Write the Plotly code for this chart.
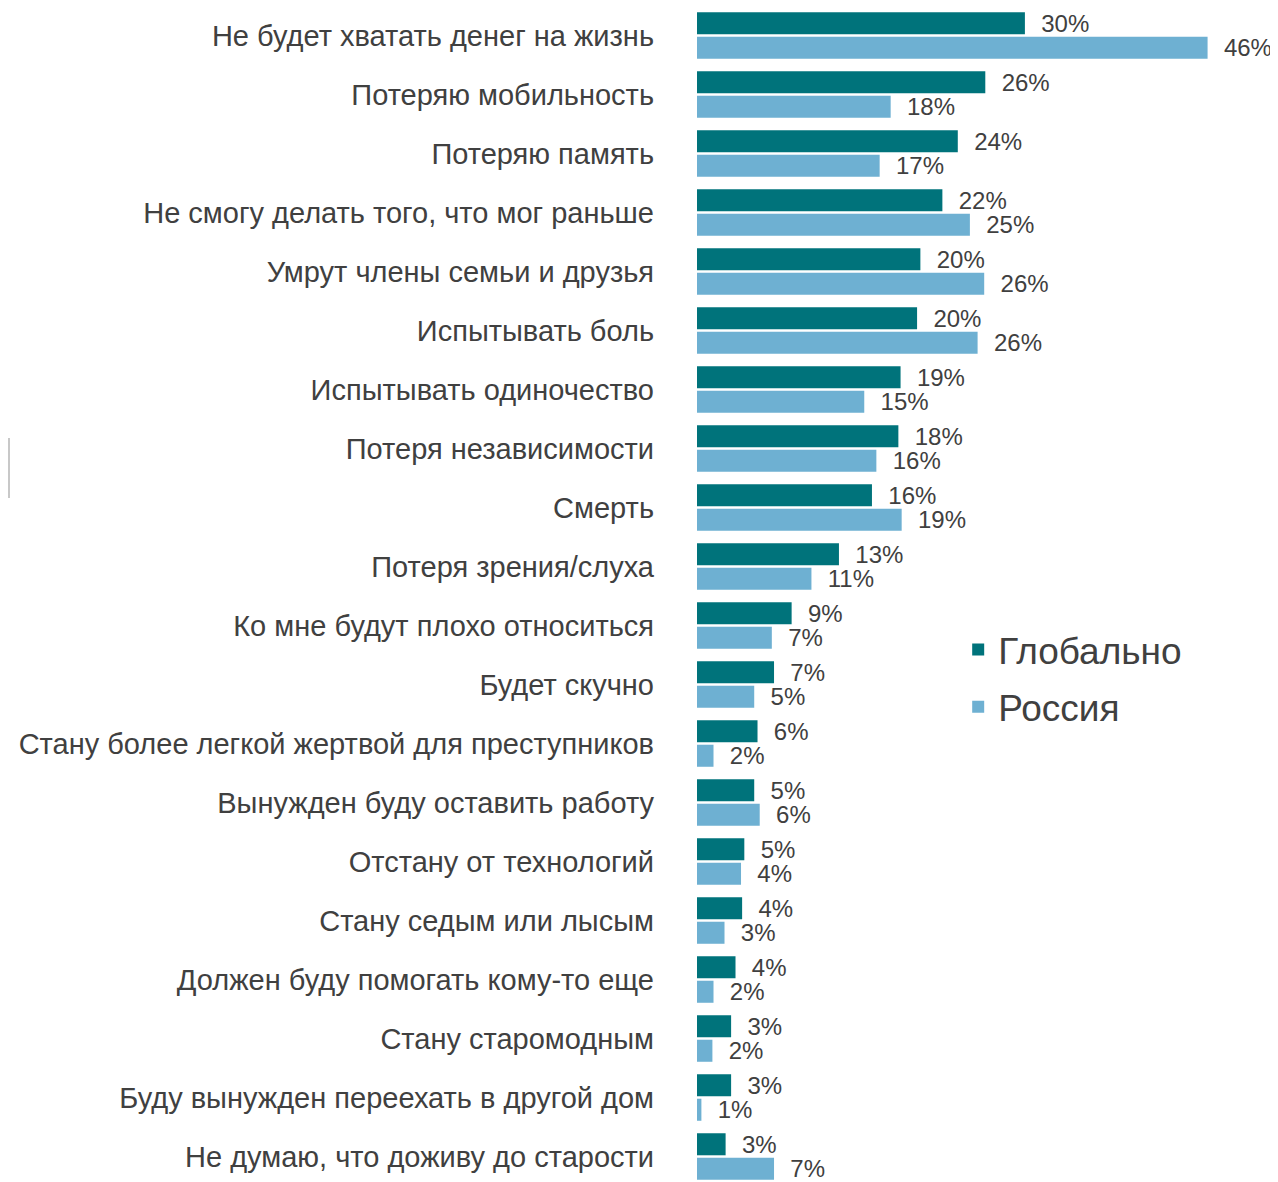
import plotly.graph_objects as go

categories = [
    "Не будет хватать денег на жизнь",
    "Потеряю мобильность",
    "Потеряю память",
    "Не смогу делать того, что мог раньше",
    "Умрут члены семьи и друзья",
    "Испытывать боль",
    "Испытывать одиночество",
    "Потеря независимости",
    "Смерть",
    "Потеря зрения/слуха",
    "Ко мне будут плохо относиться",
    "Будет скучно",
    "Стану более легкой жертвой для преступников",
    "Вынужден буду оставить работу",
    "Отстану от технологий",
    "Стану седым или лысым",
    "Должен буду помогать кому-то еще",
    "Стану старомодным",
    "Буду вынужден переехать в другой дом",
    "Не думаю, что доживу до старости",
]

global_values = [29.8, 26.2, 23.7, 22.3, 20.3, 20.0, 18.5, 18.3, 15.9, 12.9,
                 8.6, 7.0, 5.5, 5.2, 4.3, 4.1, 3.5, 3.1, 3.1, 2.6]
russia_values = [46.4, 17.6, 16.6, 24.8, 26.1, 25.5, 15.2, 16.3, 18.6, 10.4,
                 6.8, 5.2, 1.5, 5.7, 4.0, 2.5, 1.5, 1.4, 0.4, 7.0]

global_labels = ["30%", "26%", "24%", "22%", "20%", "20%", "19%", "18%", "16%", "13%",
                 "9%", "7%", "6%", "5%", "5%", "4%", "4%", "3%", "3%", "3%"]
russia_labels = ["46%", "18%", "17%", "25%", "26%", "26%", "15%", "16%", "19%", "11%",
                 "7%", "5%", "2%", "6%", "4%", "3%", "2%", "2%", "1%", "7%"]

series_names = ["Глобально", "Россия"]
colors = ["#00737B", "#6EB0D2"]

FONT = "Liberation Sans, Arial, sans-serif"
TEXT_COLOR = "#404040"
PAD = "\u00a0\u00a0"

# page body has an 8px margin; compensate
W, H = 1270, 1174
L = 689
PLOT_W = W - L          # 581 px
PLOT_H = H              # 1174 px, page y 8..1182

fig = go.Figure()
for name, vals, labs, col in zip(series_names, [global_values, russia_values],
                                 [global_labels, russia_labels], colors):
    fig.add_trace(go.Bar(
        y=categories, x=vals, orientation="h", name=name, legendgroup=name,
        marker=dict(color=col, line=dict(width=0)),
        text=[PAD + t for t in labs], textposition="outside",
        constraintext="none",
        textfont=dict(family=FONT, size=24, color=TEXT_COLOR),
        cliponaxis=False,
    ))

fig.update_layout(
    width=W, height=H,
    margin=dict(l=L, r=0, t=0, b=0),
    paper_bgcolor="white", plot_bgcolor="white",
    barmode="group", bargap=0.17, bargroupgap=0.1,
    font=dict(family=FONT, color=TEXT_COLOR),
    showlegend=True,
    legend=dict(x=(964 - 697) / PLOT_W - 0.01, y=(1182 - 619) / PLOT_H,
                xanchor="left", yanchor="top",
                font=dict(family=FONT, size=37, color=TEXT_COLOR),
                tracegroupgap=6, bgcolor="rgba(0,0,0,0)"),
    xaxis=dict(range=[0, 52.8], visible=False, showgrid=False, zeroline=False),
    yaxis=dict(range=[19.432, -0.466], showgrid=False, zeroline=False, showline=False,
               ticks="", ticklabelstandoff=42,
               tickfont=dict(family=FONT, size=29, color=TEXT_COLOR)),
    shapes=[dict(type="rect", xref="paper", yref="paper",
                 x0=(0 - 697) / PLOT_W, x1=(10 - 697) / PLOT_W,
                 y0=(1182 - 498) / PLOT_H, y1=(1182 - 438) / PLOT_H,
                 fillcolor="#C8C8C8", line=dict(width=0), layer="above")],
)

fig.write_html("out.html")
